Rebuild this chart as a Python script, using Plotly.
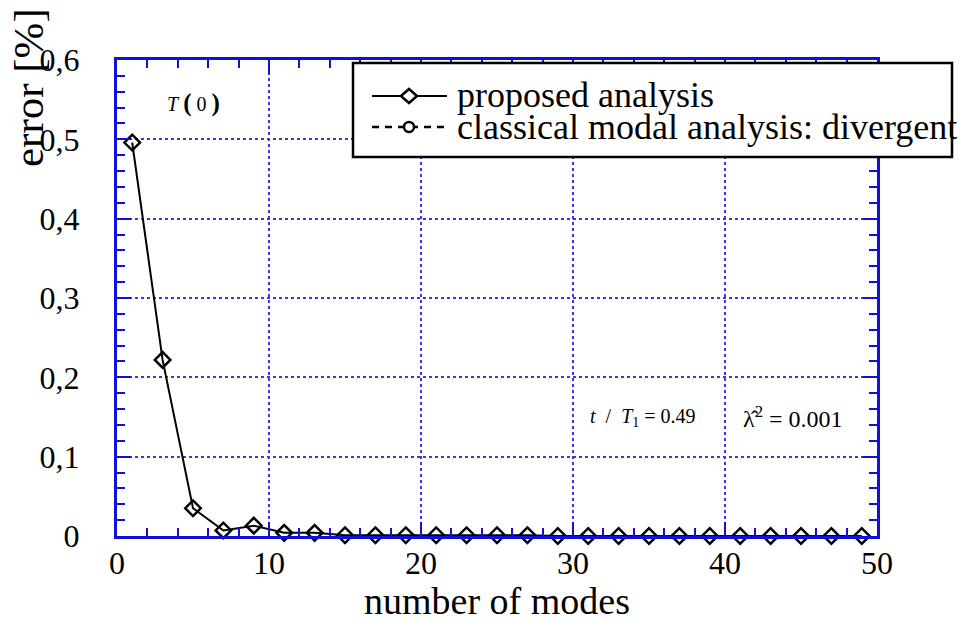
import plotly.graph_objects as go

modes = [1, 3, 5, 7, 9, 11, 13, 15, 17, 19, 21, 23, 25, 27, 29, 31, 33, 35, 37, 39, 41, 43, 45, 47, 49]
error_proposed = [0.496, 0.222, 0.035, 0.007, 0.013, 0.004, 0.004, 0.001, 0.001, 0.001, 0.001,
                  0.001, 0.001, 0.001, 0.0, 0.0, 0.0, 0.0, 0.0, 0.0, 0.0, 0.0, 0.0, 0.0, 0.0]
x_ticks = [0, 10, 20, 30, 40, 50]
y_ticks = [0, 0.1, 0.2, 0.3, 0.4, 0.5, 0.6]
y_tick_labels = ["0", "0,1", "0,2", "0,3", "0,4", "0,5", "0,6"]
series_names = ["proposed analysis", "classical modal analysis: divergent"]

BLUE = "#1010d8"
GRIDBLUE = "#3a3ae0"
SERIF = "Liberation Serif, Times New Roman, serif"

# plot-area geometry in pixels (layout only)
L, R, T, B = 117, 877, 60, 536
W, H = 966, 639


def px(xp):
    return (xp - L) / (R - L)


def py(yp):
    return (B - yp) / (B - T)


fig = go.Figure()
fig.add_trace(go.Scatter(
    x=modes, y=error_proposed, mode="lines+markers", name=series_names[0],
    line=dict(color="black", width=2),
    marker=dict(symbol="diamond-open", size=12, color="black", line=dict(width=2.5, color="black")),
    cliponaxis=False, showlegend=False,
))

axis_common = dict(
    showline=True, linecolor=BLUE, linewidth=3, mirror="allticks",
    ticks="inside", ticklen=14, tickwidth=2, tickcolor=BLUE,
    showgrid=True, gridcolor=GRIDBLUE, gridwidth=2, griddash="dot",
    zeroline=False,
    tickfont=dict(family=SERIF, size=32, color="black"),
)
minor_common = dict(ticks="inside", ticklen=8, tickwidth=2, tickcolor=BLUE, showgrid=False)

fig.update_layout(
    width=W, height=H,
    margin=dict(l=L, r=W - R, t=T, b=H - B),
    plot_bgcolor="white", paper_bgcolor="white",
    font=dict(family=SERIF, color="black"),
    showlegend=False,
    xaxis=dict(axis_common, range=[0, 50], tickvals=x_ticks,
               minor=dict(minor_common, dtick=2),
               ticklabelstandoff=-3),
    yaxis=dict(axis_common, range=[0, 0.6], tickvals=y_ticks, ticktext=y_tick_labels,
               minor=dict(minor_common, dtick=0.02),
               ticklabelstandoff=28),
)

# axis titles
fig.add_annotation(text="number of modes", xref="paper", yref="paper",
                   x=0.5, y=py(601), xanchor="center", yanchor="middle", showarrow=False,
                   font=dict(family=SERIF, size=38, color="black"))
fig.add_annotation(text="error [%]", textangle=-90, xref="paper", yref="paper",
                   x=px(28), y=py(88), xanchor="center", yanchor="middle", showarrow=False,
                   font=dict(family=SERIF, size=43, color="black"))

# in-plot labels
fig.add_annotation(text="<i>T</i> <span style='font-size:25px'><b>(</b></span> 0 <span style='font-size:25px'><b>)</b></span>",
                   x=5.0, y=0.546, showarrow=False,
                   font=dict(family=SERIF, size=20, color="black"))
fig.add_annotation(text="<i>t</i>  /  <i>T</i><sub>1</sub> = 0.49", x=34.6, y=0.150, showarrow=False,
                   font=dict(family=SERIF, size=20, color="black"))
fig.add_annotation(text="λ\u0302<sup>2</sup> = 0.001", x=44.5, y=0.150, showarrow=False,
                   font=dict(family=SERIF, size=24, color="black"))

# manual legend (box, glyphs, texts)
fig.add_shape(type="rect", xref="paper", yref="paper",
              x0=px(353), x1=px(952), y0=py(157), y1=py(63),
              fillcolor="white", line=dict(color="black", width=2.5), layer="above")
fig.add_shape(type="line", xref="paper", yref="paper",
              x0=px(372), x1=px(447), y0=py(96), y1=py(96),
              line=dict(color="black", width=2), layer="above")
fig.add_shape(type="path", xref="paper", yref="paper", xsizemode="pixel", ysizemode="pixel",
              xanchor=px(409), yanchor=py(96), path="M -8,0 L 0,7 L 8,0 L 0,-7 Z",
              fillcolor="white", line=dict(color="black", width=2.5), layer="above")
fig.add_shape(type="line", xref="paper", yref="paper",
              x0=px(372), x1=px(447), y0=py(127), y1=py(127),
              line=dict(color="black", width=2.5, dash="7px,6px"), layer="above")
fig.add_shape(type="circle", xref="paper", yref="paper", xsizemode="pixel", ysizemode="pixel",
              xanchor=px(409), yanchor=py(127), x0=-5, x1=5, y0=-5, y1=5,
              fillcolor="white", line=dict(color="black", width=2.5), layer="above")
for name, yrow in zip(series_names, [95, 127]):
    fig.add_annotation(text=name, xref="paper", yref="paper",
                       x=px(455), y=py(yrow), xanchor="left", yanchor="middle", showarrow=False,
                       font=dict(family=SERIF, size=36, color="black"))

fig.write_html("out.html")
